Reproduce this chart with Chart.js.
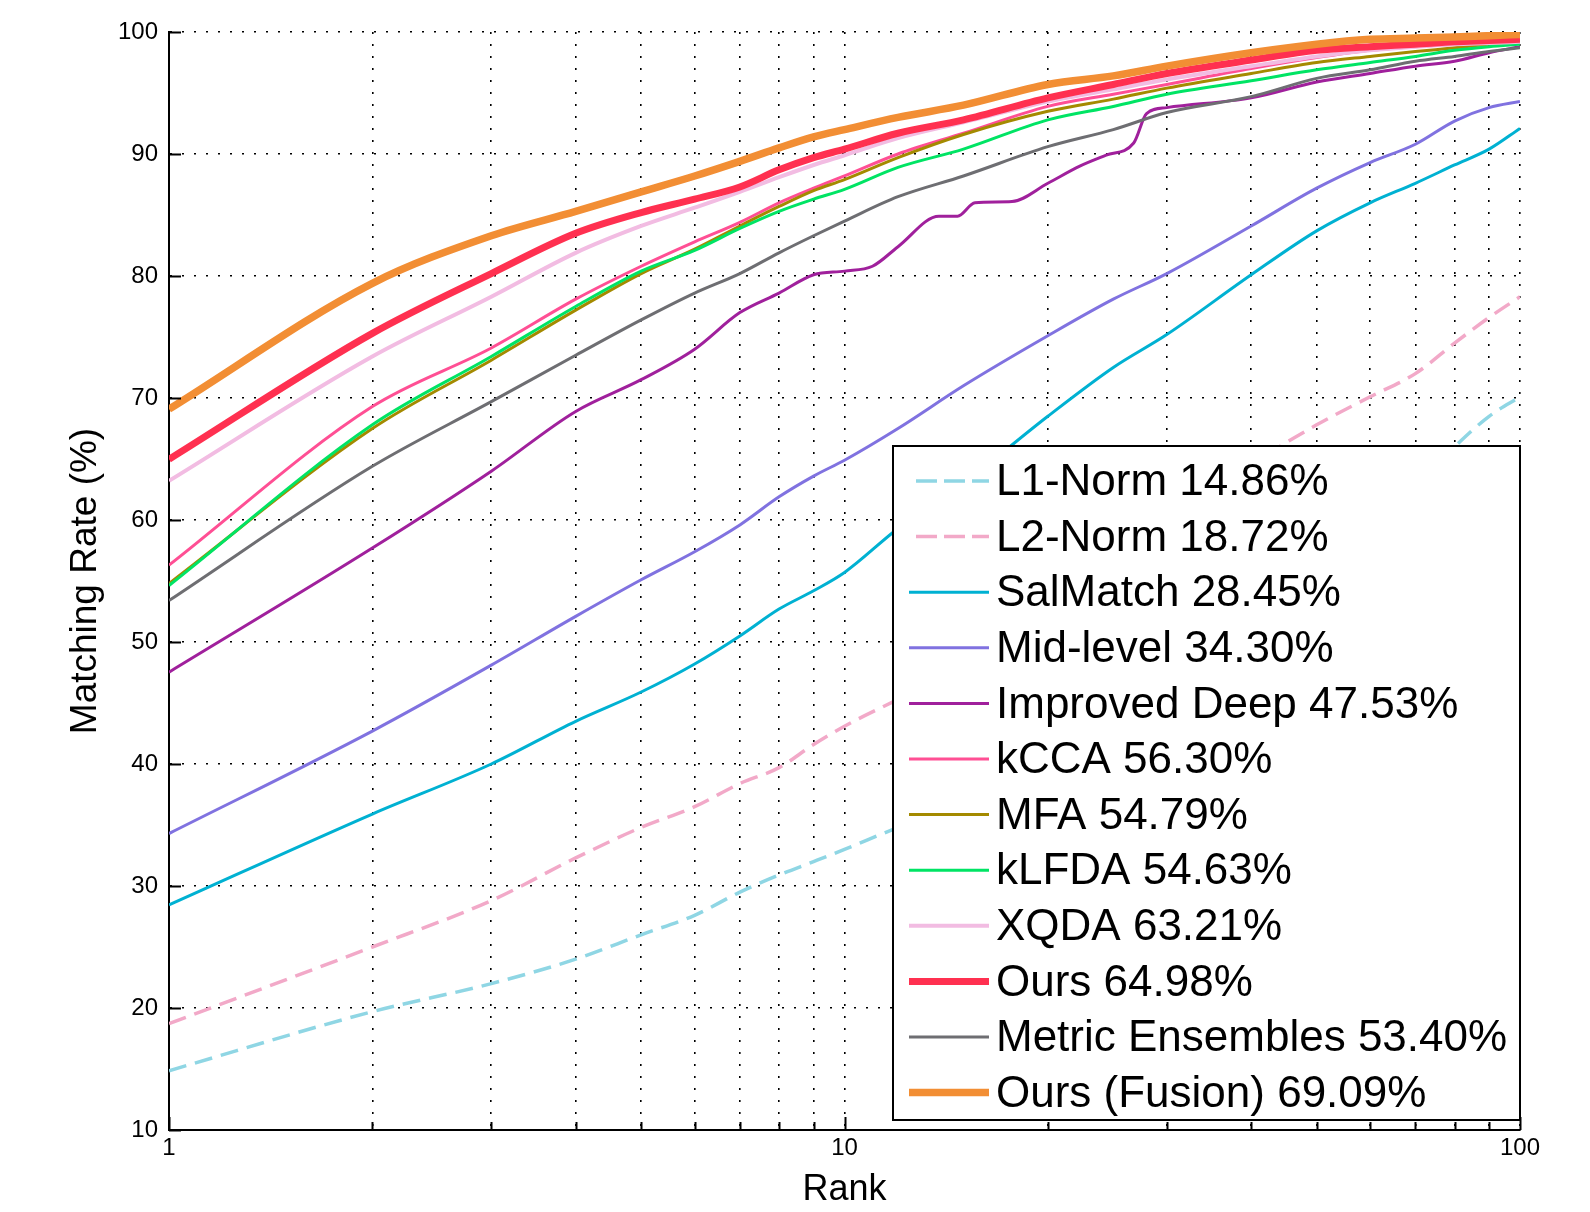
<!DOCTYPE html>
<html>
<head>
<meta charset="utf-8">
<script src="https://cdn.jsdelivr.net/npm/chart.js@4.4.1/dist/chart.umd.min.js"></script>
<style>
  html, body { margin: 0; padding: 0; background: #fff; }
  canvas { display: block; }
</style>
</head>
<body>
<canvas id="myChart" width="1590" height="1212"></canvas>
<script>
// ranks shared by most curves
const ranks = [1, 2, 3, 4, 5, 6, 7, 8, 9, 10, 12, 15, 20, 25, 30, 40, 50, 60, 70, 80, 90, 100];

const l1Norm = [14.86, 19.7, 22.0, 24.0, 26.0, 27.6, 29.5, 30.9, 32.0, 33.0, 34.8, 36.8, 39.8, 42.5, 45.0, 50.0, 55.0, 59.0, 62.8, 66.0, 68.5, 70.1];
const l2Norm = [18.72, 25.0, 28.8, 32.3, 34.8, 36.5, 38.4, 39.7, 41.6, 43.1, 45.3, 48.0, 52.5, 56.0, 59.0, 64.5, 67.8, 70.1, 72.0, 74.5, 76.6, 78.3];
const salMatch = [28.45, 35.9, 40.0, 43.5, 45.9, 48.2, 50.5, 52.7, 54.2, 55.7, 59.3, 63.0, 68.5, 72.5, 75.2, 80.1, 83.7, 86.0, 87.6, 89.1, 90.4, 92.1];
const midLevel = [34.30, 42.7, 48.1, 52.1, 55.1, 57.4, 59.6, 61.9, 63.6, 64.9, 67.5, 71.0, 75.1, 78.1, 80.2, 84.1, 87.2, 89.3, 90.8, 92.7, 93.8, 94.3];
const kcca = [56.30, 69.3, 74.1, 78.1, 80.8, 82.8, 84.4, 86.0, 87.2, 88.2, 90.0, 91.7, 93.9, 94.9, 95.7, 97.0, 97.9, 98.5, 98.8, 99.0, 99.1, 99.2];
const mfa = [54.79, 67.5, 73.1, 77.2, 80.2, 82.2, 84.1, 85.7, 87.0, 87.9, 89.7, 91.6, 93.5, 94.5, 95.4, 96.6, 97.5, 98.0, 98.4, 98.7, 99.0, 99.2];
const klfda = [54.63, 67.8, 73.4, 77.5, 80.4, 82.1, 83.9, 85.3, 86.3, 87.1, 88.9, 90.4, 92.8, 93.9, 94.9, 96.0, 96.9, 97.5, 98.0, 98.5, 98.8, 99.0];
const xqda = [63.21, 73.4, 78.3, 81.9, 84.1, 85.6, 86.9, 88.1, 89.1, 89.9, 91.3, 92.6, 94.3, 95.3, 96.1, 97.2, 98.0, 98.5, 98.8, 99.0, 99.1, 99.2];
const ours = [64.98, 75.3, 80.2, 83.5, 85.2, 86.3, 87.3, 88.7, 89.7, 90.4, 91.7, 92.8, 94.6, 95.7, 96.6, 97.7, 98.5, 98.8, 99.0, 99.2, 99.3, 99.4];
const metricEns = [53.40, 64.4, 69.7, 73.5, 76.4, 78.6, 80.2, 81.9, 83.3, 84.5, 86.5, 88.2, 90.6, 92.0, 93.4, 94.7, 96.2, 96.9, 97.6, 98.0, 98.4, 98.7];
const fusion = [69.09, 79.4, 83.3, 85.3, 86.9, 88.2, 89.4, 90.5, 91.4, 92.0, 93.0, 94.0, 95.7, 96.4, 97.2, 98.3, 99.0, 99.4, 99.5, 99.6, 99.7, 99.8];

// Improved Deep has visible steps, so it gets its own ranks
const deepRanks = [1, 2, 3, 4, 5, 6, 7, 8, 9, 10, 11, 12, 13.8, 14.7, 15.6, 17.7, 20, 22.3, 24.4, 26.8, 28, 30, 40, 50, 60, 70, 80, 90, 100];
const improvedDeep = [47.53, 57.7, 64.0, 68.9, 71.5, 74.0, 77.0, 78.6, 80.1, 80.4, 80.8, 82.4, 84.9, 84.9, 86.0, 86.1, 87.6, 89.0, 89.9, 90.9, 93.3, 93.8, 94.6, 95.9, 96.6, 97.2, 97.6, 98.3, 98.8];

const xTicks = [1, 2, 3, 4, 5, 6, 7, 8, 9, 10, 20, 30, 40, 50, 60, 70, 80, 90, 100];
const xLabels = [1, 10, 100];
const yTicks = [10, 20, 30, 40, 50, 60, 70, 80, 90, 100];

const series = [
  { label: "L1-Norm 14.86%", xs: ranks, ys: l1Norm, color: "#8fd6e4", width: 3.5, dash: [18, 9] },
  { label: "L2-Norm 18.72%", xs: ranks, ys: l2Norm, color: "#f2a9c8", width: 3.5, dash: [18, 9] },
  { label: "SalMatch 28.45%", xs: ranks, ys: salMatch, color: "#00b1d2", width: 3 },
  { label: "Mid-level 34.30%", xs: ranks, ys: midLevel, color: "#8072e0", width: 3 },
  { label: "Improved Deep 47.53%", xs: deepRanks, ys: improvedDeep, color: "#a0209c", width: 3 },
  { label: "kCCA 56.30%", xs: ranks, ys: kcca, color: "#ff4f94", width: 3 },
  { label: "MFA 54.79%", xs: ranks, ys: mfa, color: "#a48a00", width: 3 },
  { label: "kLFDA 54.63%", xs: ranks, ys: klfda, color: "#00e464", width: 3 },
  { label: "XQDA 63.21%", xs: ranks, ys: xqda, color: "#f2bce2", width: 4 },
  { label: "Ours 64.98%", xs: ranks, ys: ours, color: "#ff3050", width: 7 },
  { label: "Metric Ensembles 53.40%", xs: ranks, ys: metricEns, color: "#6e6e72", width: 3 },
  { label: "Ours (Fusion) 69.09%", xs: ranks, ys: fusion, color: "#f28e34", width: 7.5 }
];

// inward tick marks and the legend box, drawn over the curves
const matlabDecor = {
  id: "matlabDecor",
  afterDatasetsDraw(chart) {
    const { ctx, chartArea: a, scales: { x, y } } = chart;
    ctx.save();
    ctx.strokeStyle = "#000";
    ctx.lineWidth = 2;
    ctx.setLineDash([]);
    ctx.beginPath();
    yTicks.forEach((v) => {
      const py = Math.round(y.getPixelForValue(v)) + 0.5;
      ctx.moveTo(a.left, py);
      ctx.lineTo(a.left + 12, py);
    });
    xTicks.forEach((v) => {
      const px = Math.round(x.getPixelForValue(v)) + 0.5;
      const len = xLabels.includes(v) ? 13 : 8;
      ctx.moveTo(px, a.bottom);
      ctx.lineTo(px, a.bottom - len);
    });
    ctx.stroke();

    // legend
    const boxW = 627, boxH = 674;
    const bx = a.right - boxW, by = a.bottom - 10 - boxH;
    ctx.fillStyle = "#fff";
    ctx.fillRect(bx, by, boxW, boxH);
    ctx.lineWidth = 2;
    ctx.strokeStyle = "#000";
    ctx.strokeRect(bx, by, boxW, boxH);

    ctx.font = "44px 'Liberation Sans', Arial, sans-serif";
    ctx.textBaseline = "middle";
    ctx.textAlign = "left";
    series.forEach((s, i) => {
      const ry = by + 35 + i * 55.6;
      ctx.beginPath();
      ctx.strokeStyle = s.color;
      ctx.lineWidth = s.width;
      if (s.dash) {
        ctx.setLineDash([21, 7]);
        ctx.moveTo(bx + 23, ry);
      } else {
        ctx.setLineDash([]);
        ctx.moveTo(bx + 16, ry);
      }
      ctx.lineTo(bx + 96, ry);
      ctx.stroke();
      ctx.setLineDash([]);
      ctx.fillStyle = "#000";
      ctx.fillText(s.label, bx + 103, ry + 2);
    });
    ctx.restore();
  }
};

Chart.defaults.font.family = "'Liberation Sans', Arial, sans-serif";
Chart.defaults.color = "#000";

const ctx = document.getElementById("myChart").getContext("2d");

new Chart(ctx, {
  type: "line",
  data: {
    datasets: series.map((s, i) => ({
      label: s.label,
      data: s.xs.map((r, j) => ({ x: r, y: s.ys[j] })),
      borderColor: s.color,
      backgroundColor: s.color,
      borderWidth: s.width,
      borderDash: s.dash || [],
      pointRadius: 0,
      fill: false,
      cubicInterpolationMode: "monotone",
      order: series.length - i
    }))
  },
  options: {
    responsive: false,
    animation: false,
    devicePixelRatio: 1,
    layout: {
      padding: { top: 32, right: 70, left: 0, bottom: 0 }
    },
    plugins: {
      legend: { display: false },
      tooltip: { enabled: false }
    },
    scales: {
      x: {
        type: "logarithmic",
        min: 1,
        max: 100,
        afterBuildTicks: (scale) => {
          scale.ticks = xTicks.map((v) => ({ value: v }));
        },
        afterFit: (scale) => {
          scale.height = 82;
        },
        ticks: {
          autoSkip: false,
          maxRotation: 0,
          padding: 4,
          font: { size: 24 },
          callback: (value) => (xLabels.includes(value) ? String(value) : "")
        },
        grid: {
          color: "#000",
          lineWidth: 1.6,
          drawTicks: false
        },
        border: { display: true, color: "#000", width: 2, dash: [2, 10] },
        title: {
          display: true,
          text: "Rank",
          font: { size: 36 },
          padding: { top: 0, bottom: 0 }
        }
      },
      y: {
        type: "linear",
        min: 10,
        max: 100,
        afterFit: (scale) => {
          scale.width = 169;
        },
        ticks: {
          stepSize: 10,
          padding: 11,
          font: { size: 24 }
        },
        grid: {
          color: "#000",
          lineWidth: 1.6,
          drawTicks: false
        },
        border: { display: true, color: "#000", width: 2, dash: [2, 10] },
        title: {
          display: true,
          text: "Matching Rate (%)",
          font: { size: 37 },
          padding: { top: 64, bottom: 0 }
        }
      }
    }
  },
  plugins: [matlabDecor]
});
</script>
</body>
</html>
